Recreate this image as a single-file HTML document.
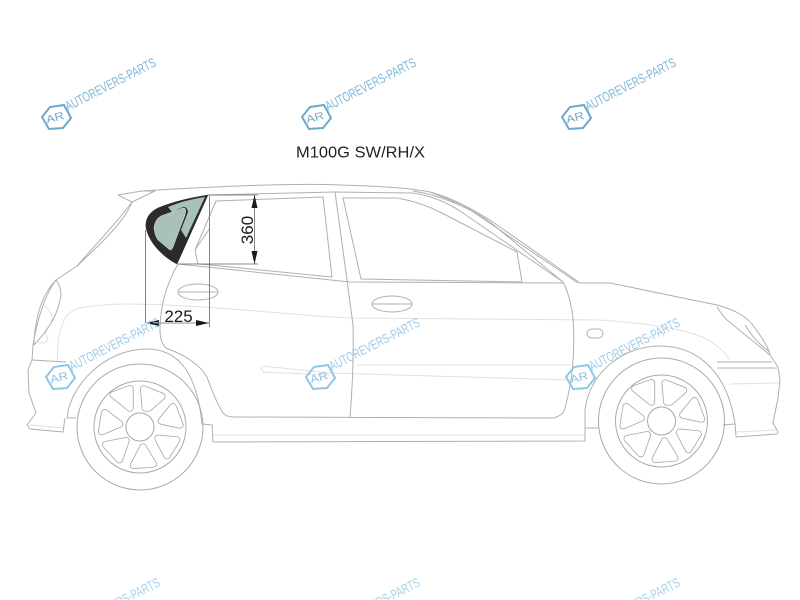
<!DOCTYPE html>
<html><head><meta charset="utf-8"><style>
html,body{margin:0;padding:0;background:#fff;width:800px;height:600px;overflow:hidden}
svg{display:block;overflow:hidden;filter:blur(.3px)}
text{font-family:"Liberation Sans",sans-serif}
</style></head><body>
<svg width="800" height="600" viewBox="0 0 800 600" xmlns="http://www.w3.org/2000/svg">
<defs>
<g id="spokes">
<g transform="scale(.3333)">
<path d="M-30,-115 L-80,-97 L-30,-57 Z M11,-114 L66,-92 L26,-57 L16,-57 Z M99,-61 L120,-6 L64,-18 Z M110,39 L54,34 L81,86 Z M9,60 L-19,115 L40,111 Z M-42,41 L-103,53 L-62,98 Z M-106,-43 L-61,-9 L-115,14 Z" fill="none" stroke="#a8a8a8" stroke-width="22" stroke-linejoin="round"/>
<path d="M-30,-115 L-80,-97 L-30,-57 Z M11,-114 L66,-92 L26,-57 L16,-57 Z M99,-61 L120,-6 L64,-18 Z M110,39 L54,34 L81,86 Z M9,60 L-19,115 L40,111 Z M-42,41 L-103,53 L-62,98 Z M-106,-43 L-61,-9 L-115,14 Z" fill="#fff" stroke="#fff" stroke-width="17" stroke-linejoin="round"/>
</g>
<circle r="63" fill="none" stroke="#a8a8a8" stroke-width="1"/>
<circle r="46" fill="none" stroke="#a8a8a8" stroke-width="1"/>
<circle r="14" fill="none" stroke="#a8a8a8" stroke-width="1"/>
</g>
</defs>

<!-- light lines -->
<g fill="none" stroke="#e0e0e0" stroke-width="1">
<path d="M57,362 C58,345 58,335 62,325 C66,314 72,309 85,307 C100,305 110,304 125,304 C200,304 300,316 350,318 L600,320 C640,323 690,328 712,342 C720,348 726,354 730,360"/>
<path d="M357,365 L570,365"/>
<path d="M262,366 L330,373 L570,380"/>
<path d="M262,366 Q260,370 264,372 L330,375"/>
<path d="M213,435 L585,435"/>
<path d="M730,384 L780,383"/>
<path d="M736,432 L776,430"/>
<path d="M30,425 L65,428"/>
<path d="M44,305 Q56,315 50,325 Q42,332 48,338 Q46,345 38,342"/>
</g>

<!-- body -->
<g fill="none" stroke="#b0b0b0" stroke-width="1" stroke-linejoin="round">
<!-- spoiler -->
<path d="M118,195 L132,202 L155,191 L142,191 Z"/>
<!-- roof & front -->
<path d="M142,191 C220,186 300,183 340,185 C380,186 410,188 430,192 C450,197 470,208 490,220 L580,283 L610,283 L717,305 C735,310 747,316 755,328 C762,338 768,346 770,355 L778,367 L780,380 L778,398 L773,423 L778,432 L777,434 L736,437 L735,423"/>
<!-- rear -->
<path d="M132,202 C115,225 95,245 77,266 L56,280 C45,295 37,320 33,345 L32,360 L28,370 L29,393 L36,413 L27,425 L30,429 L63,432 L65,418"/>
<path d="M132,202 C125,220 105,240 77,266"/>
<path d="M56,280 Q63,290 60,300 C56,320 45,333 34,345 C34,335 36,318 42,302 Q48,288 56,280 Z"/>
<path d="M32,360 L66,362"/>
<!-- arches -->
<path d="M67,418 C70,385 105,349 147,349 C180,349 197,375 202,424 L212,425 L213,442 L585,441 L585,410 C590,370 625,346 660,346 C700,346 728,375 735,424 L723,425"/>
<path d="M67,418 L76,418"/>
<path d="M585,428 L598,428"/>
<!-- door -->
<path d="M178,264 Q160,295 160,330 Q160,345 168,349 C185,355 200,365 207,377 Q215,400 223,413 Q226,417 235,417 L553,418 Q563,416 565,408 Q570,390 572,372 Q575,345 573,318 Q570,295 563,282 L463,213 Q440,197 413,193 L335,192 L347,280 L353,325 Q354,370 350,417"/>
<path d="M208,195 L335,192"/>
<path d="M178,264 L350,282 L563,283"/>
<!-- rear window -->
<path d="M216,201 L323,197 L332,277 L210,265 L198,264 L195,250 Z"/>
<path d="M210,228 L195,250"/>
<!-- front window -->
<path d="M343,198 L397,198 Q420,202 440,212 L517,252 L522,282 L361,279 Z"/>
<path d="M430,192 L463,205 L578,283"/>
<path d="M413,191 C440,195 470,208 490,222 L563,282"/>
<!-- handles -->
<ellipse cx="198" cy="292" rx="20" ry="8"/>
<path d="M178,292 H218"/>
<ellipse cx="392" cy="304" rx="20" ry="8"/>
<path d="M372,304 H412"/>
<rect x="587" y="329" width="16" height="9" rx="4.500"/>
<!-- headlight -->
<path d="M717,307 Q722,315 727,320 L770,355"/>
<path d="M745,325 Q755,342 770,352"/>
<!-- bumper -->
<path d="M717,362 H772 M717,368 H777"/>
</g>

<use href="#spokes" x="140" y="427"/>
<use href="#spokes" x="661.500" y="421"/>

<!-- glass -->
<path d="M208,195 L177,264 C165,258 150,245 146,228 C145,218 150,212 158,208 C175,201 190,198 208,195 Z" fill="#2b2b2b" stroke="#2b2b2b" stroke-width=".5"/>
<path d="M205,197 L186,238 L181,230 L188,212 Q187,206 183,207 L172,212 L168,207 C180,202 192,199 205,197 Z" fill="#a9c2b8"/>
<path d="M183,208 L161,216 Q155,219 154,228 Q155,236 158,240 L170,250 Q172,250 173,247 L185,215 Q187,207 183,208 Z" fill="#a9c2b8" stroke="#dfe6e3" stroke-width=".5"/>

<!-- dimensions -->
<g fill="none" stroke="#666" stroke-width=".8">
<path d="M145.500,230 V323 M209.500,196 V327"/>
<path d="M146,323 H209"/>
<path d="M208,195 H258 M178,264 H258"/>
<path d="M254.500,195 V264"/>
</g>
<g fill="#1a1a1a">
<path d="M146,323 L159,320 V326 Z M209,323 L196,320 V326 Z"/>
<path d="M254.500,195 L251.500,208 H257.500 Z M254.500,264 L251.500,251 H257.500 Z"/>
</g>
<text x="178.500" y="322" font-size="17" text-anchor="middle" fill="#1a1a1a">225</text>
<text transform="translate(253,230) rotate(-90)" font-size="17" text-anchor="middle" fill="#1a1a1a">360</text>
<text x="296" y="157.500" font-size="16" textLength="129" lengthAdjust="spacingAndGlyphs" fill="#222">M100G SW/RH/X</text>

<!-- watermarks -->
<g>
<g transform="translate(1,0)">
<path d="M41,117 L49,107 L63,105 L70,118 L62,128 L48,129 Z" fill="none" stroke="#6aa8cc" stroke-width="2"/>
<text transform="translate(55,121) rotate(-15)" font-size="11" textLength="18" lengthAdjust="spacingAndGlyphs" text-anchor="middle" fill="#7aa9c6">AR</text>
<text transform="translate(67,111) rotate(-27)" font-size="13.500" textLength="100" lengthAdjust="spacingAndGlyphs" fill="#7fb6da">AUTOREVERS-PARTS</text>
</g>
<g transform="translate(261,0)">
<path d="M41,117 L49,107 L63,105 L70,118 L62,128 L48,129 Z" fill="none" stroke="#6aa8cc" stroke-width="2"/>
<text transform="translate(55,121) rotate(-15)" font-size="11" textLength="18" lengthAdjust="spacingAndGlyphs" text-anchor="middle" fill="#7aa9c6">AR</text>
<text transform="translate(67,111) rotate(-27)" font-size="13.500" textLength="100" lengthAdjust="spacingAndGlyphs" fill="#7fb6da">AUTOREVERS-PARTS</text>
</g>
<g transform="translate(521,0)">
<path d="M41,117 L49,107 L63,105 L70,118 L62,128 L48,129 Z" fill="none" stroke="#6aa8cc" stroke-width="2"/>
<text transform="translate(55,121) rotate(-15)" font-size="11" textLength="18" lengthAdjust="spacingAndGlyphs" text-anchor="middle" fill="#7aa9c6">AR</text>
<text transform="translate(67,111) rotate(-27)" font-size="13.500" textLength="100" lengthAdjust="spacingAndGlyphs" fill="#7fb6da">AUTOREVERS-PARTS</text>
</g>
<g transform="translate(5,260)">
<path d="M41,117 L49,107 L63,105 L70,118 L62,128 L48,129 Z" fill="none" stroke="#8cc8e6" stroke-width="2"/>
<text transform="translate(55,121) rotate(-15)" font-size="11" textLength="18" lengthAdjust="spacingAndGlyphs" text-anchor="middle" fill="#8cc0de">AR</text>
<text transform="translate(67,111) rotate(-27)" font-size="13.500" textLength="100" lengthAdjust="spacingAndGlyphs" fill="#9ccbe8">AUTOREVERS-PARTS</text>
</g>
<g transform="translate(265,260)">
<path d="M41,117 L49,107 L63,105 L70,118 L62,128 L48,129 Z" fill="none" stroke="#8cc8e6" stroke-width="2"/>
<text transform="translate(55,121) rotate(-15)" font-size="11" textLength="18" lengthAdjust="spacingAndGlyphs" text-anchor="middle" fill="#8cc0de">AR</text>
<text transform="translate(67,111) rotate(-27)" font-size="13.500" textLength="100" lengthAdjust="spacingAndGlyphs" fill="#9ccbe8">AUTOREVERS-PARTS</text>
</g>
<g transform="translate(525,260)">
<path d="M41,117 L49,107 L63,105 L70,118 L62,128 L48,129 Z" fill="none" stroke="#8cc8e6" stroke-width="2"/>
<text transform="translate(55,121) rotate(-15)" font-size="11" textLength="18" lengthAdjust="spacingAndGlyphs" text-anchor="middle" fill="#8cc0de">AR</text>
<text transform="translate(67,111) rotate(-27)" font-size="13.500" textLength="100" lengthAdjust="spacingAndGlyphs" fill="#9ccbe8">AUTOREVERS-PARTS</text>
</g>
<g transform="translate(5,520)"><text transform="translate(67,111) rotate(-27)" font-size="13.500" textLength="100" lengthAdjust="spacingAndGlyphs" fill="#a8d2ea">AUTOREVERS-PARTS</text></g>
<g transform="translate(265,520)"><text transform="translate(67,111) rotate(-27)" font-size="13.500" textLength="100" lengthAdjust="spacingAndGlyphs" fill="#a8d2ea">AUTOREVERS-PARTS</text></g>
<g transform="translate(525,520)"><text transform="translate(67,111) rotate(-27)" font-size="13.500" textLength="100" lengthAdjust="spacingAndGlyphs" fill="#a8d2ea">AUTOREVERS-PARTS</text></g>
</g>
</svg>
</body></html>
